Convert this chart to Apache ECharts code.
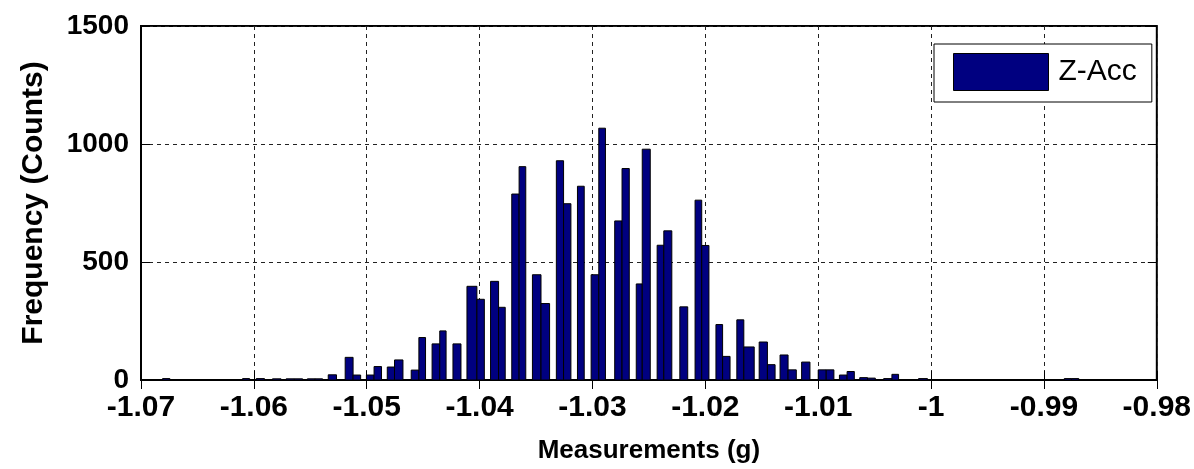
<!DOCTYPE html>
<html>
<head>
    <meta charset="utf-8">
    <title>Z-Acc histogram</title>
    <script type="text/javascript" src="https://cdn.jsdelivr.net/npm/echarts@6/dist/echarts.min.js"></script>
</head>
<body style="margin:0;background:#fff;">

    <div id="main" style="width: 1194px;height:469px;"></div>

    <script type="text/javascript">
        // histogram bins: left edge, right edge (g) and count
        var binLo = [-1.06809, -1.06100, -1.05979, -1.05835, -1.05714, -1.05641, -1.05526, -1.05459, -1.05341, -1.05191,
                     -1.05121, -1.05003, -1.04935, -1.04818, -1.04754, -1.04606, -1.04538, -1.04421, -1.04353, -1.04236,
                     -1.04112, -1.04024, -1.03903, -1.03832, -1.03715, -1.03650, -1.03532, -1.03456, -1.03320, -1.03256,
                     -1.03133, -1.03012, -1.02944, -1.02803, -1.02738, -1.02612, -1.02559, -1.02427, -1.02368, -1.02226,
                     -1.02091, -1.02032, -1.01906, -1.01847, -1.01721, -1.01659, -1.01523, -1.01450, -1.01338, -1.01267,
                     -1.01147, -1.01000, -1.00929, -1.00812, -1.00744, -1.00632, -1.00563, -1.00420, -1.00347, -1.00111,
                     -0.98820, -0.98756];
        var binHi = [-1.06744, -1.06038, -1.05906, -1.05759, -1.05641, -1.05568, -1.05459, -1.05391, -1.05268, -1.05121,
                     -1.05054, -1.04935, -1.04869, -1.04754, -1.04679, -1.04538, -1.04479, -1.04353, -1.04297, -1.04165,
                     -1.04024, -1.03958, -1.03832, -1.03773, -1.03650, -1.03591, -1.03456, -1.03380, -1.03256, -1.03191,
                     -1.03073, -1.02944, -1.02885, -1.02738, -1.02674, -1.02559, -1.02488, -1.02368, -1.02297, -1.02156,
                     -1.02032, -1.01968, -1.01847, -1.01781, -1.01659, -1.01567, -1.01450, -1.01382, -1.01267, -1.01194,
                     -1.01073, -1.00929, -1.00861, -1.00744, -1.00680, -1.00563, -1.00494, -1.00347, -1.00288, -1.00032,
                     -0.98756, -0.98691];
        var counts = [6, 6, 6, 5, 5, 5, 5, 5, 22, 96,
                      21, 21, 57, 55, 85, 42, 180, 153, 208, 153,
                      397, 342, 418, 308, 788, 904, 446, 324, 929, 747,
                      821, 446, 1067, 674, 896, 407, 978, 571, 632, 310,
                      762, 570, 235, 100, 255, 140, 161, 65, 106, 43,
                      76, 43, 43, 21, 36, 10, 8, 6, 24, 6,
                      6, 6];

        var hist = [];
        for (var i = 0; i < counts.length; i++) {
            hist.push([binLo[i], binHi[i], counts[i]]);
        }

        var font = 'Liberation Sans, Arial, sans-serif';
        var myChart = echarts.init(document.getElementById('main'));

        function fmtX(v) {
            return String(Math.round(v * 100) / 100);
        }

        var gridDash = { color: '#222', width: 1, type: [4, 4] };

        var option = {
            animation: false,
            backgroundColor: '#fff',
            grid: {
                left: 141, right: 33, top: 26, bottom: 87,
                show: true, borderColor: '#000', borderWidth: 2, backgroundColor: '#fff'
            },
            legend: {
                data: [{ name: 'Z-Acc', icon: 'rect' }],
                left: 934, top: 44,
                orient: 'vertical',
                itemWidth: 95, itemHeight: 37,
                padding: [9, 15, 11, 19],
                backgroundColor: '#fff',
                borderColor: '#000', borderWidth: 1,
                itemStyle: { borderColor: '#000', borderWidth: 1 },
                textStyle: { fontFamily: font, fontSize: 30, color: '#000', padding: [0, 0, 0, 5] }
            },
            xAxis: [{
                type: 'value',
                min: -1.07, max: -0.98, interval: 0.01,
                name: 'Measurements (g)',
                nameLocation: 'middle',
                nameGap: 58,
                nameTextStyle: { fontFamily: font, fontSize: 26, fontWeight: 'bold', color: '#000' },
                axisLine: { onZero: false, lineStyle: { color: '#000', width: 2 } },
                axisTick: { inside: true, length: 9, lineStyle: { color: '#000', width: 1 } },
                axisLabel: { formatter: fmtX, margin: 13, fontFamily: font, fontSize: 30, fontWeight: 'bold', color: '#000' },
                splitLine: { show: true, lineStyle: gridDash }
            }, {
                type: 'value', position: 'top',
                min: -1.07, max: -0.98, interval: 0.01,
                axisLine: { show: false },
                axisTick: { inside: true, length: 9, lineStyle: { color: '#000', width: 1 } },
                axisLabel: { show: false },
                splitLine: { show: false }
            }],
            yAxis: [{
                type: 'value',
                min: 0, max: 1500, interval: 500,
                name: 'Frequency (Counts)',
                nameLocation: 'middle',
                nameGap: 92,
                nameTextStyle: { fontFamily: font, fontSize: 30, fontWeight: 'bold', color: '#000' },
                axisLine: { show: true, lineStyle: { color: '#000', width: 2 } },
                axisTick: { show: true, inside: true, length: 9, lineStyle: { color: '#000', width: 1 } },
                axisLabel: {
                    formatter: function (v) { return String(v); },
                    margin: 12, fontFamily: font, fontSize: 28, fontWeight: 'bold', color: '#000'
                },
                splitLine: { show: true, lineStyle: gridDash }
            }, {
                type: 'value', position: 'right',
                min: 0, max: 1500, interval: 500,
                axisLine: { show: false },
                axisTick: { show: true, inside: true, length: 9, lineStyle: { color: '#000', width: 1 } },
                axisLabel: { show: false },
                splitLine: { show: false }
            }],
            series: [{
                name: 'Z-Acc',
                type: 'custom',
                xAxisIndex: 0,
                yAxisIndex: 0,
                itemStyle: { color: '#000080' },
                encode: { x: [0, 1], y: 2 },
                data: hist,
                renderItem: function (params, api) {
                    var p0 = api.coord([api.value(0), api.value(2)]);
                    var p1 = api.coord([api.value(1), 0]);
                    return {
                        type: 'rect',
                        shape: { x: p0[0], y: p0[1], width: p1[0] - p0[0], height: p1[1] - p0[1] },
                        style: { fill: '#000080', stroke: '#000', lineWidth: 1 }
                    };
                }
            }]
        };

        myChart.setOption(option);
    </script>
</body>
</html>
